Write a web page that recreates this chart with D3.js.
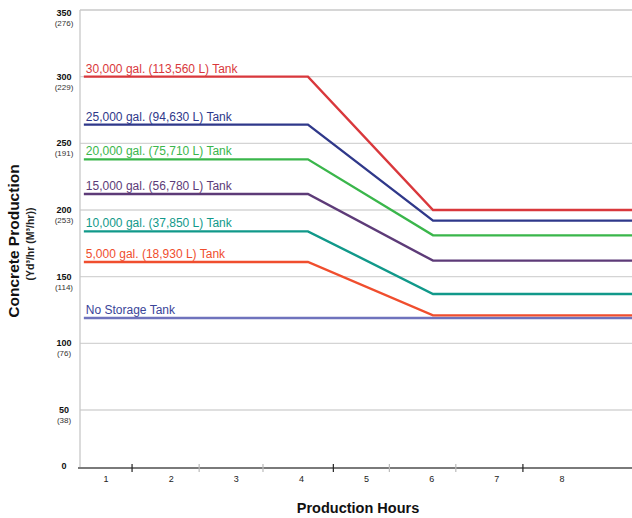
<!DOCTYPE html>
<html>
<head>
<meta charset="utf-8">
<script src="https://cdn.jsdelivr.net/npm/d3@7"></script>
<style>
  body { margin: 0; background: #fff; }
  svg { display: block; font-family: "Liberation Sans", Arial, Helvetica, sans-serif; }
</style>
</head>
<body>
<svg id="chart" width="632" height="518"></svg>
<script>
// ---- data ----
const seriesNames = [
  "30,000 gal. (113,560 L) Tank",
  "25,000 gal. (94,630 L) Tank",
  "20,000 gal. (75,710 L) Tank",
  "15,000 gal. (56,780 L) Tank",
  "10,000 gal. (37,850 L) Tank",
  "5,000 gal. (18,930 L) Tank",
  "No Storage Tank"
];
const startValues = [300, 264, 238, 212, 184, 161, 119];   // yd³/hr before drop
const endValues   = [200, 192, 181, 162, 137, 121, 119];   // yd³/hr after drop
const lineHours   = [0.66, 4.1, 6.02, 9.1];                // start, drop begins, drop ends, end
const seriesColors = ["#d9383c", "#2f388a", "#3ab64b", "#5d3b78", "#11998a", "#f04e2e", "#6f73bd"];
const labelColors  = ["#d9383c", "#2f388a", "#3ab64b", "#5d3b78", "#11998a", "#f04e2e", "#3a4599"];

const yTickValues = [0, 50, 100, 150, 200, 250, 300, 350];
const yTickMetric = ["", "(38)", "(76)", "(114)", "(253)", "(191)", "(229)", "(276)"];
const hourLabels  = [1, 2, 3, 4, 5, 6, 7, 8];
const hourTicks   = [1.4, 2.43, 3.41, 4.49, 5.35, 6.37, 7.4];
const darkTicks   = [1.4, 4.49, 7.4];

// ---- scales ----
const svg = d3.select("#chart");
const plotLeft = 80, plotRight = 632, plotTop = 10, plotBottom = 468;
const x = d3.scaleLinear().domain([1, 8]).range([106, 562]);
const y = d3.scaleLinear().domain([0, 50, 350]).range([plotBottom, 410, plotTop]);

// grid lines
svg.append("g").selectAll("line")
  .data(yTickValues.filter(v => v > 0 && v < 350))
  .join("line")
  .attr("x1", plotLeft).attr("x2", plotRight)
  .attr("y1", d => y(d)).attr("y2", d => y(d))
  .attr("stroke", "#d4d4d4").attr("stroke-width", 1.3);

// top border
svg.append("line")
  .attr("x1", plotLeft).attr("x2", plotRight)
  .attr("y1", y(350)).attr("y2", y(350))
  .attr("stroke", "#c8c8c8").attr("stroke-width", 1.3);

// left border
svg.append("line")
  .attr("x1", plotLeft).attr("x2", plotLeft)
  .attr("y1", y(350)).attr("y2", plotBottom)
  .attr("stroke", "#c8c8c8").attr("stroke-width", 1.3);

// series lines
const lineGen = d3.line().x(d => x(d[0])).y(d => y(d[1]));
const seriesData = seriesNames.map((name, i) => ({
  name,
  color: seriesColors[i],
  labelColor: labelColors[i],
  points: [
    [lineHours[0], startValues[i]],
    [lineHours[1], startValues[i]],
    [lineHours[2], endValues[i]],
    [lineHours[3], endValues[i]]
  ]
}));

svg.append("g").selectAll("path")
  .data(seriesData.slice().reverse())
  .join("path")
  .attr("d", d => lineGen(d.points))
  .attr("fill", "none")
  .attr("stroke", d => d.color)
  .attr("stroke-width", 2.4)
  .attr("stroke-linejoin", "miter");

// series labels
svg.append("g").selectAll("text")
  .data(seriesData)
  .join("text")
  .attr("x", x(lineHours[0]) + 2)
  .attr("y", d => y(d.points[0][1]) - 4)
  .attr("fill", d => d.labelColor)
  .attr("font-size", 12)
  .text(d => d.name);

// x axis line
svg.append("line")
  .attr("x1", plotLeft - 2).attr("x2", plotRight)
  .attr("y1", plotBottom).attr("y2", plotBottom)
  .attr("stroke", "#7a7a7a").attr("stroke-width", 2);

// x ticks
svg.append("g").selectAll("line")
  .data(hourTicks)
  .join("line")
  .attr("x1", d => x(d)).attr("x2", d => x(d))
  .attr("y1", plotBottom - 4).attr("y2", plotBottom + 4)
  .attr("stroke", d => darkTicks.includes(d) ? "#222" : "#bbb")
  .attr("stroke-width", 1.2);

// x tick labels
svg.append("g").selectAll("text")
  .data(hourLabels)
  .join("text")
  .attr("x", d => x(d))
  .attr("y", plotBottom + 14)
  .attr("text-anchor", "middle")
  .attr("font-size", 9)
  .attr("fill", "#222")
  .text(d => d);

// y tick labels
const yl = svg.append("g").selectAll("g")
  .data(yTickValues.map((v, i) => ({ v, m: yTickMetric[i] })))
  .join("g")
  .attr("transform", d => `translate(64,${y(d.v)})`);
yl.append("text")
  .attr("text-anchor", "middle")
  .attr("y", d => d.v === 350 ? 6 : (d.v === 0 ? 1 : 3))
  .attr("font-size", 9)
  .attr("font-weight", "bold")
  .attr("fill", "#111")
  .text(d => d.v);
yl.append("text")
  .attr("text-anchor", "middle")
  .attr("y", d => d.v === 350 ? 16 : 13)
  .attr("font-size", 8)
  .attr("fill", "#333")
  .text(d => d.m);

// y axis titles
svg.append("text")
  .attr("transform", "translate(19,241) rotate(-90)")
  .attr("text-anchor", "middle")
  .attr("font-size", 15.5)
  .attr("font-weight", "bold")
  .attr("fill", "#111")
  .text("Concrete Production");
svg.append("text")
  .attr("transform", "translate(34,244) rotate(-90)")
  .attr("text-anchor", "middle")
  .attr("font-size", 10.5)
  .attr("font-weight", "bold")
  .attr("fill", "#222")
  .text("(Yd³/hr (M³/hr))");

// x axis title
svg.append("text")
  .attr("x", 358)
  .attr("y", 513)
  .attr("text-anchor", "middle")
  .attr("font-size", 14.5)
  .attr("font-weight", "bold")
  .attr("fill", "#111")
  .text("Production Hours");
</script>
</body>
</html>
